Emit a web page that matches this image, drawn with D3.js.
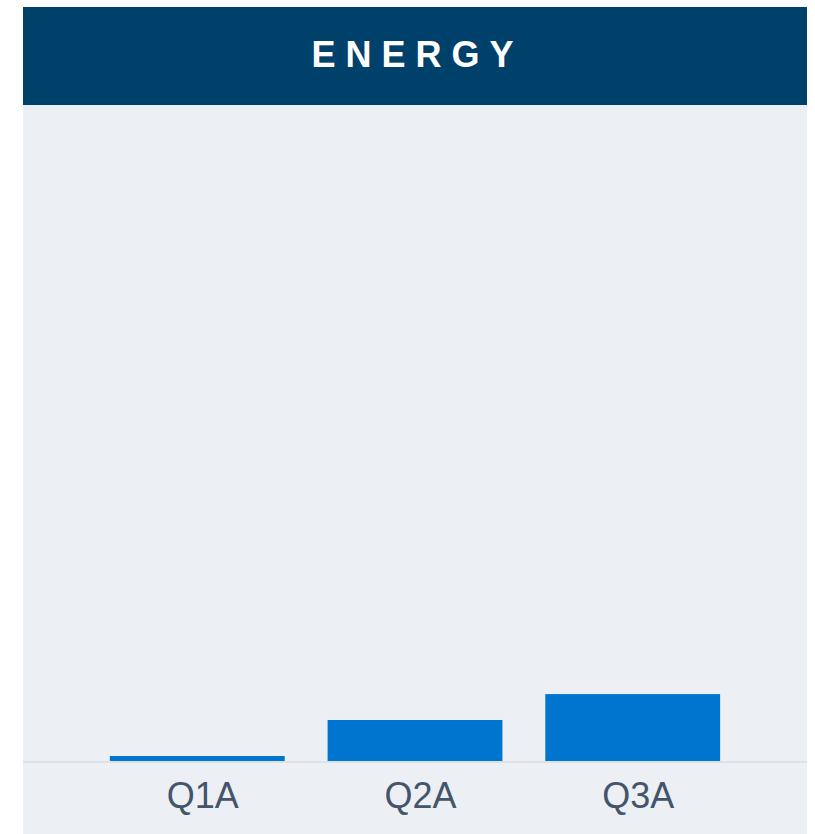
<!DOCTYPE html>
<html lang="en">
<head>
<meta charset="UTF-8">
<title>Energy</title>
<script src="https://d3js.org/d3.v7.min.js"></script>
<style>
  body { margin: 0; background: #fff; }
  .title { font-family: "Liberation Sans", Arial, sans-serif; font-weight: bold; fill: #fff; letter-spacing: 10px; }
  .axis text { font-family: "Liberation Sans", Arial, sans-serif; fill: #44546a; }
  .axis path, .axis line { display: none; }
</style>
</head>
<body>
<script>
  // chart data
  var categories = ["Q1A", "Q2A", "Q3A"];
  var values = [0.76, 6.25, 10.2];
  var yMax = 100;
  var title = "ENERGY";

  var width = 815, height = 834;
  var panel = {left: 23, right: 807, top: 7, header: 105, bottom: 834};
  var baseline = 761;

  var svg = d3.select("body").append("svg")
      .attr("width", width)
      .attr("height", height);

  // panel background
  svg.append("rect")
      .attr("x", panel.left).attr("y", panel.header)
      .attr("width", panel.right - panel.left)
      .attr("height", panel.bottom - panel.header)
      .attr("fill", "#ecf0f4");

  // header band
  svg.append("rect")
      .attr("x", panel.left).attr("y", panel.top)
      .attr("width", panel.right - panel.left)
      .attr("height", panel.header - panel.top)
      .attr("fill", "#00416b");

  // letter-spacing adds a trailing gap, so nudge right by half of it
  svg.append("text")
      .attr("class", "title")
      .attr("x", 412.5 + 5)
      .attr("y", 67)
      .attr("text-anchor", "middle")
      .style("font-size", "36px")
      .text(title);

  var x = d3.scaleBand()
      .domain(categories)
      .range([panel.left, panel.right])
      .paddingInner(0.197)
      .paddingOuter(0.399);

  var y = d3.scaleLinear()
      .domain([0, yMax])
      .range([baseline, panel.header]);

  // bars
  svg.selectAll(".bar")
      .data(values)
    .enter().append("rect")
      .attr("class", "bar")
      .attr("x", (d, i) => x(categories[i]))
      .attr("y", d => y(d))
      .attr("width", x.bandwidth())
      .attr("height", d => y(0) - y(d))
      .attr("fill", "#0075cf");

  // baseline
  svg.append("rect")
      .attr("x", panel.left).attr("y", y(0))
      .attr("width", panel.right - panel.left)
      .attr("height", 2)
      .attr("fill", "#dde2e9");

  // category axis
  svg.append("g")
      .attr("class", "axis")
      .attr("transform", "translate(5.5," + y(0) + ")")
      .call(d3.axisBottom(x).tickSize(0).tickPadding(21))
    .selectAll("text")
      .style("font-size", "36px");
</script>
</body>
</html>
